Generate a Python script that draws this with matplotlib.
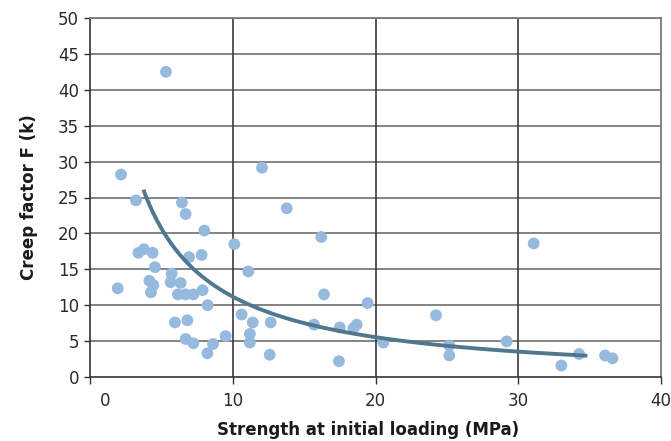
import numpy as np
import matplotlib
matplotlib.use("Agg")
import matplotlib.pyplot as plt
from matplotlib.transforms import ScaledTranslation

# ---- data ----
strength = [2.17, 3.22, 6.44, 6.70, 8.01, 10.11, 3.39, 3.78, 4.39, 6.94, 7.82,
            4.55, 1.94, 4.16, 4.44, 4.27, 5.72, 5.65, 6.35, 6.16, 6.70, 7.24,
            7.89, 8.24, 5.95, 6.82, 6.70, 7.24, 8.22, 8.62, 9.50, 10.62, 11.09,
            12.05, 13.78, 16.20, 16.39, 19.45, 11.40, 12.66, 11.20, 11.20, 12.59,
            15.69, 17.50, 17.44, 18.45, 18.68, 20.55, 31.08, 24.24, 25.17, 25.17,
            29.19, 33.02, 34.26, 36.08, 36.60, 5.32]
creep = [28.2, 24.6, 24.3, 22.7, 20.4, 18.5, 17.3, 17.8, 17.3, 16.7, 17.0,
         15.3, 12.35, 13.4, 12.8, 11.8, 14.4, 13.2, 13.1, 11.5, 11.5, 11.5,
         12.1, 10.0, 7.6, 7.9, 5.3, 4.7, 3.3, 4.6, 5.7, 8.7, 14.7,
         29.15, 23.5, 19.5, 11.5, 10.3, 7.6, 7.6, 6.0, 4.8, 3.1,
         7.3, 6.9, 2.2, 6.8, 7.3, 4.8, 18.6, 8.6, 4.4, 3.0,
         4.95, 1.6, 3.2, 3.0, 2.6, 42.5]

# trendline: ln y = c0 + c1 ln x + c2 (ln x)^2, drawn over this x range
trend_range = [3.74, 34.84]
trend_coef = [4.122, -0.533, -0.0905]

x_ticks = [0, 10, 20, 30, 40]
y_ticks = [0, 5, 10, 15, 20, 25, 30, 35, 40, 45, 50]

# ---- figure ----
fig = plt.figure(figsize=(6.71, 4.41), dpi=100)
ax = fig.add_axes([90/671, 1-377/441, 571/671, 359/441])

ax.set_xlim(0, 40)
ax.set_ylim(0, 50)
ax.set_xticks(x_ticks)
ax.set_yticks(y_ticks)

for y in y_ticks[1:]:
    ax.axhline(y, color="#7a7a7a", lw=1.3, zorder=1)
for x in x_ticks[1:-1]:
    ax.axvline(x, color="#3a3a3a", lw=1.2, zorder=1)

ax.scatter(strength, creep, s=72, color="#96b9de", edgecolors="none", zorder=3)

xt = np.linspace(trend_range[0], trend_range[1], 200)
lx = np.log(xt)
yt = np.exp(trend_coef[0] + trend_coef[1]*lx + trend_coef[2]*lx**2)
ax.plot(xt, yt, color="#4f7890", lw=2.8, solid_capstyle="butt", zorder=4)

for s in ["top", "right"]:
    ax.spines[s].set_color("#7a7a7a")
    ax.spines[s].set_linewidth(1.3)
ax.spines["left"].set_color("#333333")
ax.spines["left"].set_linewidth(1.2)
ax.spines["bottom"].set_color("#333333")
ax.spines["bottom"].set_linewidth(1.2)

ax.tick_params(axis="both", direction="out", colors="#333333", labelcolor="#2a2a2a",
               labelsize=12, length=4, width=1)
ax.tick_params(axis="x", pad=6, length=5)
ax.tick_params(axis="y", pad=4)

# shift the "0" x label right like the reference
lab0 = ax.get_xticklabels()[0]
lab0.set_transform(lab0.get_transform() + ScaledTranslation(15/100, 0, fig.dpi_scale_trans))

ax.set_xlabel("Strength at initial loading (MPa)", fontsize=12, fontweight="bold",
              color="#1a1a1a")
ax.set_ylabel("Creep factor F (k)", fontsize=12, fontweight="bold",
              color="#1a1a1a", labelpad=14)
ax.xaxis.set_label_coords(0.487, -0.122)

fig.savefig("out.png", dpi=100)
